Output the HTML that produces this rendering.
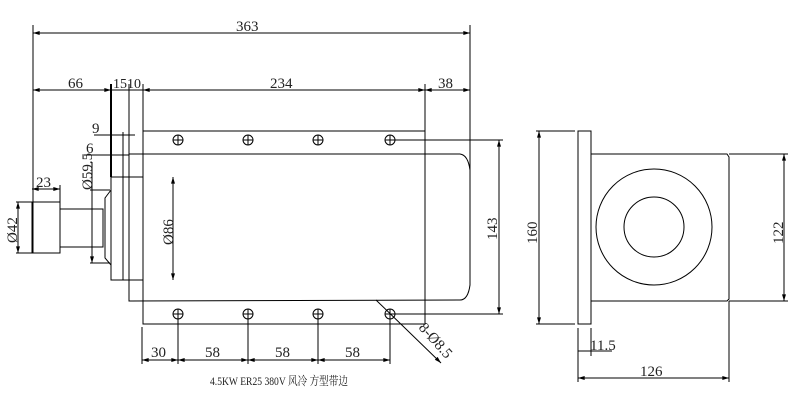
<!DOCTYPE html>
<html><head><meta charset="utf-8"><style>
html,body{margin:0;padding:0;background:#fff;width:796px;height:403px;overflow:hidden}
svg{display:block}
text{font-family:"Liberation Serif","Noto Serif CJK SC",serif;fill:#222;font-size:15px}
</style></head><body>
<svg width="796" height="403" viewBox="0 0 796 403" stroke="#000" stroke-width="1" fill="none">
<defs>
<marker id="a" viewBox="0 0 10 6" refX="10" refY="3" markerWidth="8" markerHeight="4" orient="auto-start-reverse"><path d="M0,0L10,3L0,6z" fill="#000" stroke="none"/></marker>
<g id="h"><circle r="5"/><line x1="-5" y1="0" x2="5" y2="0"/><line x1="0" y1="-5" x2="0" y2="5"/></g>
</defs>
<line x1="33" y1="33" x2="470" y2="33" marker-start="url(#a)" marker-end="url(#a)"/>
<line x1="33" y1="25" x2="33" y2="253"/>
<line x1="470" y1="25" x2="470" y2="175"/>
<line x1="33" y1="90" x2="111" y2="90" marker-start="url(#a)" marker-end="url(#a)"/>
<line x1="111" y1="90" x2="155" y2="90"/>
<line x1="143" y1="90" x2="425" y2="90" marker-start="url(#a)" marker-end="url(#a)"/>
<line x1="425" y1="90" x2="470" y2="90" marker-start="url(#a)" marker-end="url(#a)"/>
<line x1="111" y1="84" x2="111" y2="177" stroke-width="2"/>
<line x1="123" y1="132" x2="123" y2="280"/>
<line x1="129" y1="84" x2="129" y2="154"/>
<line x1="143" y1="84" x2="143" y2="131"/>
<line x1="425" y1="84" x2="425" y2="131"/>
<line x1="94" y1="135" x2="135" y2="135"/>
<line x1="84" y1="155" x2="129" y2="155"/>
<rect x="143" y="131" width="282" height="193"/>
<path d="M129,154 L460,154 Q468,155 470,170 L470,285 Q468,300 460,300 L129,301 Z"/>
<rect x="111" y="177" width="32" height="103"/>
<line x1="129" y1="280" x2="129" y2="301"/>
<rect x="32" y="202" width="28" height="51"/>
<rect x="60" y="209" width="43" height="38"/>
<path d="M111,190 L105,198 L105,258 L111,265"/>
<line x1="92" y1="162" x2="92" y2="263" marker-end="url(#a)"/>
<line x1="90" y1="190" x2="110" y2="190"/><line x1="90" y1="263" x2="110" y2="263"/>
<line x1="173" y1="177" x2="173" y2="280" marker-start="url(#a)" marker-end="url(#a)"/>
<line x1="18" y1="202" x2="18" y2="253" marker-start="url(#a)" marker-end="url(#a)"/>
<line x1="16" y1="202" x2="32" y2="202"/><line x1="16" y1="253" x2="32" y2="253"/>
<line x1="32" y1="189" x2="60" y2="189" marker-start="url(#a)" marker-end="url(#a)"/>
<line x1="60" y1="185" x2="60" y2="202"/>
<use href="#h" x="178" y="140"/><use href="#h" x="248" y="140"/><use href="#h" x="318" y="140"/><use href="#h" x="390" y="140"/>
<use href="#h" x="178" y="314"/><use href="#h" x="248" y="314"/><use href="#h" x="318" y="314"/><use href="#h" x="390" y="314"/>
<line x1="395" y1="140" x2="503" y2="140"/><line x1="395" y1="314" x2="503" y2="314"/>
<line x1="499" y1="140" x2="499" y2="314" marker-start="url(#a)" marker-end="url(#a)"/>
<line x1="142" y1="327" x2="142" y2="364"/>
<line x1="178" y1="314" x2="178" y2="364"/><line x1="248" y1="314" x2="248" y2="364"/><line x1="318" y1="314" x2="318" y2="364"/><line x1="390" y1="314" x2="390" y2="364"/>
<line x1="142" y1="360" x2="178" y2="360" marker-start="url(#a)" marker-end="url(#a)"/>
<line x1="178" y1="360" x2="248" y2="360" marker-start="url(#a)" marker-end="url(#a)"/>
<line x1="248" y1="360" x2="318" y2="360" marker-start="url(#a)" marker-end="url(#a)"/>
<line x1="318" y1="360" x2="390" y2="360" marker-start="url(#a)" marker-end="url(#a)"/>
<line x1="376" y1="300" x2="441" y2="363" marker-end="url(#a)"/>
<rect x="578" y="131" width="13" height="193"/>
<path d="M591,154 L727,154 L729,157 L729,299 L727,301 L591,301"/>
<circle cx="654" cy="227" r="58"/><circle cx="654" cy="227" r="30"/>
<line x1="536" y1="131" x2="575" y2="131"/><line x1="536" y1="324" x2="575" y2="324"/>
<line x1="539" y1="131" x2="539" y2="324" marker-start="url(#a)" marker-end="url(#a)"/>
<line x1="729" y1="154" x2="788" y2="154"/><line x1="729" y1="301" x2="788" y2="301"/>
<line x1="784" y1="154" x2="784" y2="301" marker-start="url(#a)" marker-end="url(#a)"/>
<line x1="578" y1="328" x2="578" y2="382"/><line x1="591" y1="328" x2="591" y2="356"/><line x1="729" y1="301" x2="729" y2="382"/>
<line x1="578" y1="351" x2="612" y2="351"/>
<line x1="578" y1="378" x2="729" y2="378" marker-start="url(#a)" marker-end="url(#a)"/>
<g stroke="none">
<text x="236" y="31">363</text>
<text x="68" y="88">66</text>
<text x="113" y="88" style="font-size:14px">1510</text>
<text x="270" y="88">234</text>
<text x="438" y="88">38</text>
<text x="92" y="133">9</text>
<text x="86" y="153">6</text>
<text x="36" y="187">23</text>
<text transform="translate(92,190) rotate(-90)">Ø59.5</text>
<text transform="translate(17,243) rotate(-90)">Ø42</text>
<text transform="translate(173,245) rotate(-90)">Ø86</text>
<text transform="translate(497,240) rotate(-90)">143</text>
<text x="151" y="357">30</text><text x="205" y="357">58</text><text x="275" y="357">58</text><text x="345" y="357">58</text>
<text transform="translate(418,328) rotate(48)">8-Ø8.5</text>
<text transform="translate(537,244) rotate(-90)">160</text>
<text transform="translate(783,244) rotate(-90)">122</text>
<text x="590" y="350">11.5</text>
<text x="640" y="376">126</text>
<text transform="translate(210,385) scale(0.8,1)" style="font-size:12px">4.5KW ER25 380V 风冷 方型带边</text>
</g>
</svg>
</body></html>
